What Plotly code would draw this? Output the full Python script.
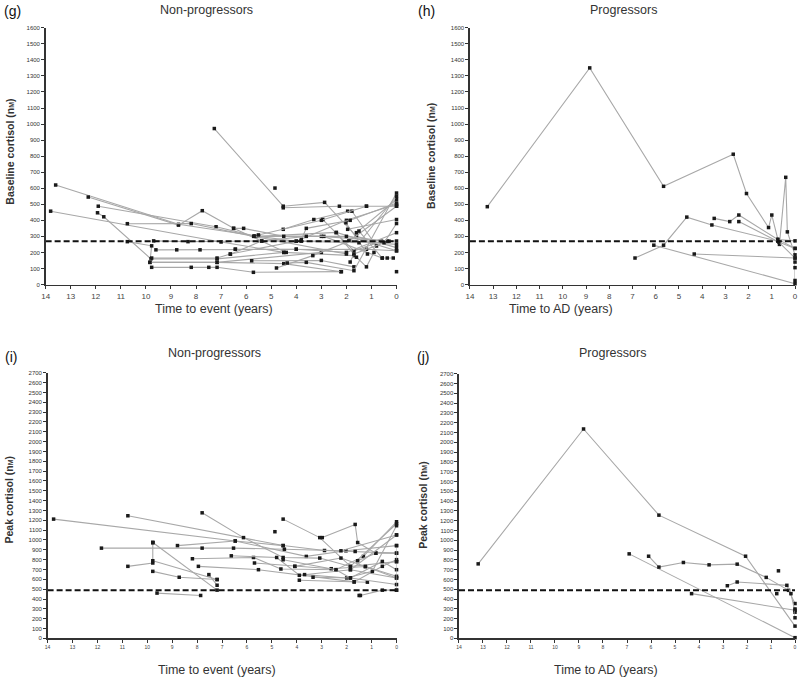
import plotly.graph_objects as go

# ---------------- DATA ----------------
# Panel (g): baseline cortisol, non-progressors  (time to event in years, value nM)
g_times = [
    [13.6, 8.7, 5.5, 2.4, 0],
    [13.8, 7.0, 4.5, 1.7],
    [12.3, 8.7, 7.75, 6.5, 4.4],
    [11.9, 7.2, 5.6, 3.0, 0.3],
    [11.93, 11.68, 9.8, 7.16, 4.5],
    [10.74, 8.19, 5.7, 2.0],
    [10.74, 9.77, 9.84, 7.16, 3.0],
    [9.69, 8.32, 5.38, 3.8],
    [9.6, 8.77, 7.84, 6.43, 4.0, 1.2, 0],
    [9.77, 8.19, 7.49, 7.16, 5.71, 2.22],
    [9.84, 7.16, 4.5, 2.2],
    [9.77, 7.16, 6.63, 4.0, 2.0, 0],
    [7.27, 4.52, 2.87, 1.6, 0],
    [4.52, 2.28, 1.2, 0],
    [4.85],
    [4.52, 3.3, 1.95, 1.78, 0.8],
    [6.5, 6.1, 4.5, 2.9, 0.57],
    [5.78, 3.0, 1.7],
    [4.79, 3.34, 1.9, 0],
    [2.94, 1.7, 0.6],
    [2.41, 1.6, 1.2, 0.9],
    [2.02, 1.16],
    [1.95, 0],
    [1.6, 0],
    [1.5, 0.57, 0.37, 0.13],
    [3.8, 1.9, 0],
    [4.36, 3.6, 1.7, 0],
    [6.43, 4.0, 2.0, 0],
    [6.63, 5.38, 3.6, 2.0, 0.37, 0],
    [5.68, 4.0, 1.5, 0],
    [5.51, 3.0, 1.2],
    [0],
    [3.8, 3.6, 1.85, 0],
    [1.85, 1.7, 0.5, 0],
]
g_values = [
    [620, 375, 300, 325, 210],
    [457, 265, 200, 180],
    [545, 370, 460, 350, 200],
    [488, 360, 300, 300, 270],
    [447, 422, 160, 160, 200],
    [379, 380, 300, 190],
    [267, 241, 138, 138, 200],
    [272, 267, 271, 271],
    [216, 216, 216, 220, 220, 220, 210],
    [107, 107, 107, 107, 76, 80],
    [138, 138, 130, 80],
    [165, 165, 190, 270, 400, 500],
    [972, 488, 512, 300, 230],
    [478, 488, 488, 488],
    [601],
    [344, 405, 457, 457, 240],
    [350, 350, 300, 300, 165],
    [148, 150, 110],
    [103, 180, 270, 488],
    [405, 210, 270],
    [323, 170, 110, 200],
    [385, 190],
    [344, 405],
    [323, 530],
    [333, 165, 165, 165],
    [271, 271, 250],
    [134, 138, 86, 570],
    [220, 220, 200, 323],
    [189, 271, 300, 300, 270, 271],
    [303, 270, 260, 550],
    [309, 400, 488],
    [80],
    [280, 350, 400, 508],
    [140, 190, 260, 380],
]

# Panel (h): baseline cortisol, progressors
h_times = [
    [13.25, 8.84, 5.66, 2.66, 2.09, 1.14, 1.0, 0.74, 0],
    [0.67, 0.4, 0.33, 0],
    [6.89, 5.66, 4.66, 3.58, 0.74, 0],
    [3.48, 2.81, 2.42, 0.74, 0],
    [2.42, 0.7, 0],
    [6.08, 0],
    [4.34, 0],
    [0, 0, 0],
]
h_values = [
    [485, 1350, 612, 812, 567, 355, 433, 282, 225],
    [250, 668, 328, 185],
    [165, 245, 420, 371, 270, 165],
    [412, 392, 433, 280, 272],
    [392, 265, 225],
    [245, 5],
    [190, 165],
    [140, 105, 25],
]

# Panel (i): peak cortisol, non-progressors
i_times = [
    [13.76, 6.47, 3.62, 2.03, 0],
    [10.78, 4.55, 2.89, 1.66, 0],
    [7.8, 6.14, 4.55, 3.08, 1.85, 0],
    [11.84, 7.8, 6.54, 4.5, 2.23, 0],
    [10.78, 9.78, 9.78],
    [9.78, 9.78, 7.2],
    [9.78, 7.2],
    [9.78, 8.72, 7.2],
    [9.61, 7.86],
    [8.79, 6.47, 4.55],
    [8.19, 5.74, 4.64, 2.43, 1.33, 0],
    [7.95, 5.54, 1.7, 0.57, 0],
    [7.53, 7.2],
    [6.63, 4.81, 3.9, 1.85, 0],
    [5.7, 4.08, 2.62, 1.25, 0],
    [4.55, 3.08, 1.85, 0],
    [4.88],
    [2.98, 1.66, 1.56, 0.83],
    [3.69, 2.0, 0.97, 0],
    [3.35, 1.85, 0.57, 0],
    [3.9, 1.7, 1.17],
    [1.5, 1.45, 0.57, 0],
    [4.55, 2.43, 1.85, 0],
    [1.56, 0.83, 0],
    [4.08, 2.23, 1.25, 0],
    [1.85, 0],
    [0, 0, 0],
]
i_values = [
    [1212, 990, 833, 890, 943],
    [1246, 943, 893, 883, 866],
    [1276, 1024, 822, 816, 730, 780],
    [917, 917, 917, 906, 890, 1051],
    [732, 766, 974],
    [974, 974, 490],
    [789, 598],
    [681, 621, 598],
    [460, 436],
    [943, 990, 943],
    [809, 822, 705, 698, 833, 1185],
    [732, 698, 574, 732, 800],
    [648, 540],
    [839, 822, 641, 698, 614],
    [766, 732, 708, 730, 631],
    [1212, 1024, 732, 1165],
    [1084],
    [1024, 1158, 974, 866],
    [648, 614, 681, 1145],
    [621, 614, 782, 698],
    [591, 574, 571],
    [436, 436, 490, 490],
    [799, 698, 614, 547],
    [789, 866, 866],
    [732, 816, 730, 614],
    [698, 1051],
    [943, 780, 490],
]

# Panel (j): peak cortisol, progressors
j_times = [
    [13.2, 8.81, 5.67, 2.06, 0],
    [6.91, 0],
    [6.1, 5.67, 4.65, 3.58, 2.41, 1.2, 0.27, 0],
    [2.82, 2.41, 0.34, 0.17, 0],
    [4.31, 0],
    [0.76],
    [0.69],
    [0, 0],
]
j_values = [
    [760, 2136, 1257, 838, 125],
    [862, 7],
    [838, 727, 774, 750, 757, 622, 490, 355],
    [537, 575, 541, 456, 267],
    [456, 287],
    [456],
    [689],
    [210, 300],
]

baseline_threshold = 270
peak_threshold = 490

x_ticks = list(range(14, -1, -1))
g_yticks = list(range(0, 1601, 100))
i_yticks = list(range(0, 2701, 100))

# ---------------- FIGURE ----------------
W, H = 800, 682
FONT = "Liberation Sans, Arial, sans-serif"
LINE_COL = "#a8a8a8"

fig = go.Figure()


def px_x(p):
    return p / W


def px_y(p):
    return 1 - p / H


panels = [
    ("", g_times, g_values, baseline_threshold, g_yticks, (42, 396), (25, 284), 1600, 8),
    ("2", h_times, h_values, baseline_threshold, g_yticks, (470, 798), (25, 284), 1600, 8),
    ("3", i_times, i_values, peak_threshold, i_yticks, (44, 396), (373, 641), 2700, 5),
    ("4", j_times, j_values, peak_threshold, i_yticks, (459, 798), (374, 641), 2700, 5),
]

for suf, times, vals, thr, yt, xd, yd, ymax, xfs in panels:
    xa = "x" + suf
    ya = "y" + suf
    for t, v in zip(times, vals):
        fig.add_trace(go.Scatter(
            x=t, y=v, xaxis=xa, yaxis=ya, mode="lines+markers",
            line=dict(color=LINE_COL, width=1.1),
            marker=dict(symbol="square", size=3.5, color="#1a1a1a"),
            cliponaxis=False, showlegend=False, hoverinfo="skip"))
    fig.add_trace(go.Scatter(
        x=[14, 0], y=[thr, thr], xaxis=xa, yaxis=ya, mode="lines",
        line=dict(color="#111111", width=2, dash="6px,3px"),
        cliponaxis=False, showlegend=False, hoverinfo="skip"))

    xkey = "xaxis" + suf
    ykey = "yaxis" + suf
    fig.layout[xkey] = dict(
        domain=[px_x(xd[0]), px_x(xd[1])], anchor=ya, range=[14, 0],
        tickvals=x_ticks, ticktext=[str(k) for k in x_ticks],
        ticks="outside", ticklen=3, tickcolor="#333", showline=True,
        linecolor="#333", linewidth=1.5, showgrid=False, zeroline=False,
        tickfont=dict(family=FONT, size=xfs, color="#444"))
    fig.layout[ykey] = dict(
        domain=[px_y(yd[1]), px_y(yd[0])], anchor=xa, range=[0, ymax],
        tickvals=yt, ticktext=[str(k) for k in yt],
        ticks="outside", ticklen=3, tickcolor="#333", showline=True,
        linecolor="#333", linewidth=1.5, showgrid=False, zeroline=False,
        tickfont=dict(family=FONT, size=6, color="#333"))

ann = []


def text(x, y, s, size, bold=False, angle=0, color="#333"):
    ann.append(dict(
        x=px_x(x), y=px_y(y), xref="paper", yref="paper", text=("<b>%s</b>" % s) if bold else s,
        showarrow=False, textangle=angle, xanchor="center", yanchor="middle",
        font=dict(family=FONT, size=size, color=color)))


# panel letters
text(9, 8, "(g)", 14, color="#111")
text(426, 8, "(h)", 14, color="#111")
text(7, 357, "(i)", 14, color="#111")
text(423, 357, "(j)", 14, color="#111")

# titles
text(204, 7, "Non-progressors", 12.5)
text(625, 7, "Progressors", 12.5)
text(212, 353, "Non-progressors", 12.5)
text(614, 353, "Progressors", 12.5)

# x-axis titles
text(212, 309, "Time to event (years)", 12.5)
text(562, 309, "Time to AD (years)", 12.5)
text(215, 673, "Time to event (years)", 12.5)
text(607, 673, "Time to AD (years)", 12.5)

unit = "(n<span style='font-size:7px'>M</span>)"
text(6, 150, "Baseline cortisol " + unit, 10.5, bold=True, angle=-90)
text(430, 154, "Baseline cortisol " + unit, 10.5, bold=True, angle=-90)
text(5, 501, "Peak cortisol " + unit, 10.5, bold=True, angle=-90)
text(422, 506, "Peak cortisol " + unit, 10.5, bold=True, angle=-90)

fig.update_layout(
    width=W, height=H, margin=dict(l=0, r=0, t=0, b=0),
    paper_bgcolor="white", plot_bgcolor="white", annotations=ann,
    font=dict(family=FONT))

fig.write_html(
    "out.html",
    config={"displayModeBar": False, "staticPlot": True},
    post_script="document.body.style.margin='0';document.body.style.overflow='hidden';")
